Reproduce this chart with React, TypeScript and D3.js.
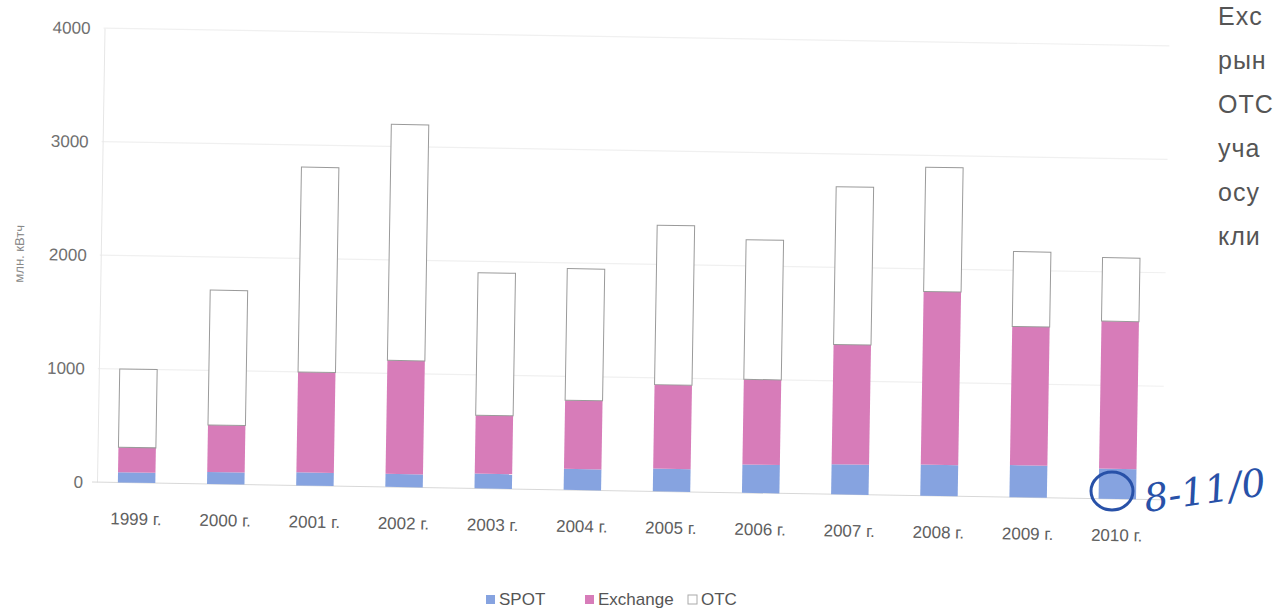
import React, { useEffect, useRef } from 'react';
import * as d3 from 'd3';

const years = ['1999 г.', '2000 г.', '2001 г.', '2002 г.', '2003 г.', '2004 г.', '2005 г.', '2006 г.', '2007 г.', '2008 г.', '2009 г.', '2010 г.'];
const spot = [90, 105, 115, 115, 130, 185, 200, 250, 265, 275, 283, 265];
const exchange = [220, 415, 885, 1000, 515, 605, 740, 750, 1055, 1525, 1222, 1300];
const otc = [690, 1188, 1805, 2080, 1255, 1160, 1405, 1230, 1390, 1095, 660, 560];
const seriesNames = ['SPOT', 'Exchange', 'OTC'];
const yTicks = [0, 1000, 2000, 3000, 4000];
const sideText = ['Exc', 'рын', 'ОТС', 'уча', 'осу', 'кли'];

const W = 1279;
const H = 611;
const font = '"Liberation Sans", Arial, sans-serif';

const App = () => {
  const svgRef = useRef(null);

  useEffect(() => {
    const svg = d3.select(svgRef.current);
    svg.selectAll('*').remove();

    const left = 92, right = 1162, top = 28, bottom = 482;
    const x = d3.scaleBand().domain(years).range([left, right]).paddingInner(0.58).paddingOuter(0.29);
    const y = d3.scaleLinear().domain([0, 4000]).range([bottom, top]);
    const color = d3.scaleOrdinal().domain(seriesNames).range(['#86a3e0', '#d77cb9', '#ffffff']);

    const rows = years.map((yr, i) => ({ year: yr, SPOT: spot[i], Exchange: exchange[i], OTC: otc[i] }));
    const stacked = d3.stack().keys(seriesNames)(rows);

    // scanned page is slightly tilted
    const g = svg.append('g').attr('transform', `rotate(0.95, ${left}, ${bottom})`);

    // grid
    g.append('g')
      .selectAll('line')
      .data(yTicks.slice(1))
      .join('line')
      .attr('x1', left + 4)
      .attr('x2', right)
      .attr('y1', d => y(d))
      .attr('y2', d => y(d))
      .attr('stroke', '#f0f0f0')
      .attr('stroke-width', 1.2);

    const axisY = d3.axisLeft(y).tickValues(yTicks).tickFormat(d3.format('d')).tickSize(0).tickPadding(14);
    g.append('g')
      .attr('transform', `translate(${left + 5},0)`)
      .call(axisY)
      .call(a => a.select('.domain').attr('stroke', '#e6e6e6'))
      .call(a => a.selectAll('text').attr('font-size', 17).attr('font-family', font).attr('fill', '#707070'));

    // baseline
    g.append('line')
      .attr('x1', left)
      .attr('x2', right)
      .attr('y1', y(0))
      .attr('y2', y(0))
      .attr('stroke', '#d8d8d8');

    g.append('g')
      .selectAll('g')
      .data(stacked)
      .join('g')
      .attr('fill', d => color(d.key))
      .attr('stroke', d => (d.key === 'OTC' ? '#9a9a9a' : 'none'))
      .selectAll('rect')
      .data(d => d)
      .join('rect')
      .attr('x', d => x(d.data.year))
      .attr('width', x.bandwidth())
      .attr('y', d => y(d[1]))
      .attr('height', d => y(d[0]) - y(d[1]));

    const axisX = d3.axisBottom(x).tickSize(0).tickPadding(30);
    g.append('g')
      .attr('transform', `translate(0,${bottom})`)
      .call(axisX)
      .call(a => a.select('.domain').remove())
      .call(a => a.selectAll('text').attr('font-size', 17).attr('font-family', font).attr('fill', '#606060'));

    g.append('text')
      .text('млн. кВтч')
      .attr('transform', `translate(20,${y(2000)}) rotate(-90)`)
      .attr('text-anchor', 'middle')
      .attr('font-size', 13)
      .attr('font-family', font)
      .attr('fill', '#888');

    // legend
    const legend = svg.append('g').attr('transform', 'translate(486,601)');
    const legendX = [0, 99, 202];
    seriesNames.forEach((name, i) => {
      legend.append('rect')
        .attr('x', legendX[i])
        .attr('y', -6)
        .attr('width', 9)
        .attr('height', 9)
        .attr('fill', color(name))
        .attr('stroke', name === 'OTC' ? '#aaa' : 'none');
      legend.append('text')
        .text(name)
        .attr('x', legendX[i] + 13)
        .attr('y', 4)
        .attr('font-size', 17)
        .attr('font-family', font)
        .attr('fill', '#555');
    });

    // page text on the right
    svg.append('g')
      .selectAll('text')
      .data(sideText)
      .join('text')
      .text(d => d)
      .attr('x', 1218)
      .attr('y', (d, i) => 25 + i * 44)
      .attr('font-size', 25)
      .attr('letter-spacing', 1)
      .attr('font-family', font)
      .attr('fill', '#555');

    // handwritten ink
    const ink = svg.append('g').attr('fill', 'none').attr('stroke', '#2851a8').attr('stroke-width', 3);
    ink.append('ellipse').attr('cx', 1112).attr('cy', 491).attr('rx', 21).attr('ry', 19);
    svg.append('text')
      .text('8-11/0')
      .attr('x', 1146)
      .attr('y', 512)
      .attr('font-size', 38)
      .attr('font-style', 'italic')
      .attr('font-family', '"DejaVu Serif", serif')
      .attr('fill', '#2851a8')
      .attr('transform', 'rotate(-8, 1146, 512)');
  }, []);

  return (
    <svg ref={svgRef} width={W} height={H} viewBox={`0 0 ${W} ${H}`}
      style={{ position: 'absolute', left: 0, top: 0, background: '#fff' }} />
  );
};

export default App;
